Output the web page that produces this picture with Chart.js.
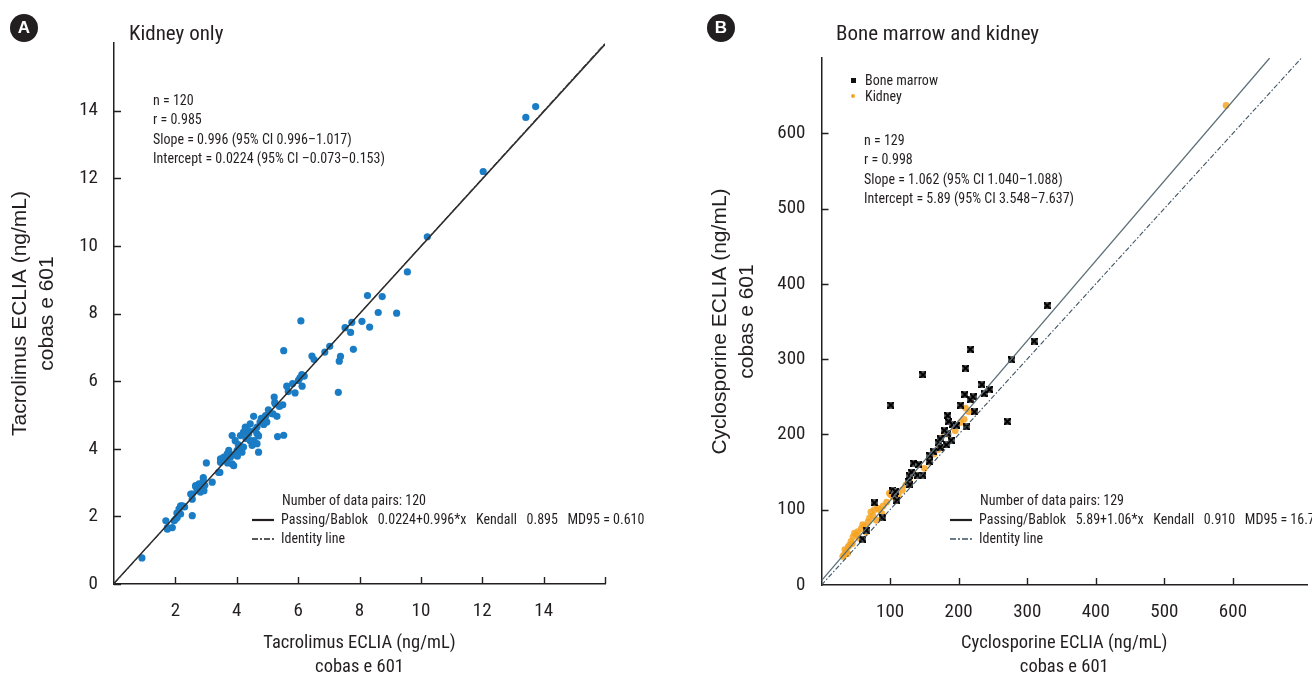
<!DOCTYPE html>
<html>
<head>
<meta charset="UTF-8">
<title>Tacrolimus and cyclosporine ECLIA comparison</title>
<script src="https://cdn.jsdelivr.net/npm/chart.js"></script>
<style>
  body { margin: 0; background: #fff; color: #231f20;
         font-family: "Roboto Condensed", "DejaVu Sans Condensed", Arial, sans-serif; }
  .page { position: relative; width: 1312px; height: 679px; overflow: hidden; }
  canvas { position: absolute; top: 0; }
  #chartA { left: 0; }
  #chartB { left: 660px; }
  .badge { position: absolute; width: 28px; height: 28px; border-radius: 50%;
           background: #231f20; color: #fff; text-align: center;
           font: bold 17px/28px "Liberation Sans", Arial, sans-serif; }
  .title { position: absolute; font-size: 21px; line-height: 26px; }
  .note { position: absolute; font-size: 14px; line-height: 19.4px; white-space: pre; }
  .key { position: absolute; font-size: 14px; line-height: 19px; white-space: pre; }
  .key svg { vertical-align: middle; margin-right: 7px; }
  .mark { position: absolute; }
</style>
</head>
<body>
<div class="page">
  <canvas id="chartA" width="660" height="679"></canvas>
  <canvas id="chartB" width="652" height="679"></canvas>

  <div class="badge" style="left:10px; top:14px;">A</div>
  <div class="title" style="left:129px; top:20px;">Kidney only</div>
  <div class="note" style="left:153px; top:91px;">n = 120
r = 0.985
Slope = 0.996 (95% CI 0.996–1.017)
Intercept = 0.0224 (95% CI –0.073–0.153)</div>
  <div class="key" style="left:282px; top:491px;">Number of data pairs: 120</div>
  <div class="key" style="left:252px; top:510px;"><svg width="22" height="6"><line x1="0" y1="3" x2="22" y2="3" stroke="#231f20" stroke-width="2.2"/></svg>Passing/Bablok   0.0224+0.996*x   Kendall   0.895   MD95 = 0.610</div>
  <div class="key" style="left:252px; top:529px;"><svg width="22" height="6"><line x1="0" y1="3" x2="22" y2="3" stroke="#231f20" stroke-width="1.6" stroke-dasharray="6,2,2,2"/></svg>Identity line</div>

  <div class="badge" style="left:707px; top:14px;">B</div>
  <div class="title" style="left:836px; top:20px;">Bone marrow and kidney</div>
  <div class="mark" style="left:851px; top:78px; width:5px; height:5px; background:#111;"></div>
  <div class="key" style="left:865px; top:71px;">Bone marrow</div>
  <div class="mark" style="left:851px; top:94px; width:4px; height:4px; border-radius:50%; background:#f5a623;"></div>
  <div class="key" style="left:865px; top:87px;">Kidney</div>
  <div class="note" style="left:864px; top:131px;">n = 129
r = 0.998
Slope = 1.062 (95% CI 1.040–1.088)
Intercept = 5.89 (95% CI 3.548–7.637)</div>
  <div class="key" style="left:980px; top:491px;">Number of data pairs: 129</div>
  <div class="key" style="left:950px; top:510px;"><svg width="22" height="6"><line x1="0" y1="3" x2="22" y2="3" stroke="#231f20" stroke-width="2.2"/></svg>Passing/Bablok   5.89+1.06*x   Kendall   0.910   MD95 = 16.7</div>
  <div class="key" style="left:950px; top:529px;"><svg width="22" height="6"><line x1="0" y1="3" x2="22" y2="3" stroke="#3d5361" stroke-width="1.6" stroke-dasharray="6,2,2,2"/></svg>Identity line</div>
</div>

<script>
// Panel A: tacrolimus, kidney only  [comparison, cobas e 601]
const tacroKidney = [
  [0.91,0.77],[1.69,1.87],[1.74,1.67],[1.90,1.67],[1.74,1.62],[1.96,1.87],[2.01,1.92],
  [2.06,1.97],[2.17,2.07],[2.05,2.10],[2.12,2.22],[2.23,2.31],[2.17,2.31],[2.30,2.28],
  [2.55,2.02],[2.55,2.51],[2.50,2.66],[2.55,2.66],[2.66,2.88],[2.71,2.76],[2.82,2.86],
  [2.77,2.96],[2.87,2.81],[2.82,2.72],[2.93,2.76],[2.91,3.06],[2.96,2.92],[2.91,3.15],
  [2.66,2.91],[3.20,3.01],[3.01,3.58],[3.45,3.30],[3.41,3.30],[3.47,3.60],[3.47,3.70],
  [3.58,3.75],[3.62,3.68],[3.70,3.58],[3.69,3.85],[3.79,3.75],[3.74,3.95],[3.85,3.55],
  [3.90,3.50],[3.88,3.82],[3.95,4.24],[3.85,4.39],[4.01,3.95],[4.02,3.78],[4.05,4.12],
  [4.17,3.90],[4.17,4.05],[4.22,4.05],[4.12,4.39],[4.22,4.49],[4.28,4.62],[4.28,4.64],
  [4.30,4.30],[4.39,4.54],[4.39,4.44],[4.44,4.24],[4.44,4.74],[4.50,4.10],[4.55,4.15],
  [4.55,4.24],[4.55,4.96],[4.60,4.55],[4.66,4.64],[4.66,4.44],[4.66,4.15],[4.71,4.38],
  [4.71,3.90],[4.76,4.79],[4.80,4.90],[4.88,4.72],[4.93,4.94],[4.94,4.98],[4.98,4.79],
  [5.03,5.15],[5.10,5.05],[5.18,5.03],[5.22,5.53],[5.24,5.37],[5.25,5.33],[5.31,4.96],
  [5.33,4.36],[5.39,5.25],[5.50,5.30],[5.53,4.40],[5.53,6.90],[5.63,5.85],[5.68,5.69],
  [5.82,5.93],[5.90,5.65],[6.01,6.02],[6.06,6.10],[6.12,6.19],[6.13,5.85],[6.20,6.15],
  [6.09,7.78],[6.45,6.74],[6.52,6.64],[6.87,6.86],[7.03,7.03],[7.31,5.67],[7.34,6.59],
  [7.38,6.73],[7.53,7.58],[7.71,7.44],[7.75,7.74],[7.80,6.94],[8.08,7.77],[8.33,7.60],
  [8.26,8.53],[8.74,8.50],[8.61,8.03],[9.21,8.01],[9.56,9.23],[10.21,10.27],[12.03,12.20],
  [13.42,13.80],[13.74,14.12]
];
const pbLineA = [[0, 0.02], [16, 15.96]];
const identityA = [[0, 0], [16, 16]];
const xTicksA = [2, 4, 6, 8, 10, 12, 14];
const yTicksA = [0, 2, 4, 6, 8, 10, 12, 14];
const xMarksA = [2, 4, 6, 8, 10, 12, 14, 16];

// Panel B: cyclosporine, bone marrow and kidney
const csaMarrow = [
  [60,61],[65,73],[77,109],[89,89],[104,125],[107,122],[108,124],[110,112],[101,239],
  [127,138],[129,133],[129,145],[131,150],[134,162],[140,146],[142,160],[148,146],
  [148,279],[157,164],[158,172],[163,177],[171,189],[173,183],[173,194],[179,205],
  [182,186],[184,201],[184,225],[185,217],[189,192],[191,213],[197,212],[203,239],
  [209,253],[210,288],[211,210],[217,246],[217,313],[221,250],[223,230],[234,266],
  [237,254],[245,260],[271,217],[277,299],[310,324],[329,371]
];
const csaKidney = [
  [31,38],[33,40],[34,47],[36,45],[38,42],[39,51],[41,53],[43,58],[45,55],[46,64],
  [48,69],[51,67],[53,71],[55,62],[58,75],[60,80],[63,78],[65,70],[68,84],[70,89],
  [72,97],[75,92],[77,100],[80,86],[82,102],[85,100],[88,95],[90,105],[95,110],
  [99,122],[101,120],[104,118],[106,117],[112,120],[118,126],[123,133],[127,134],
  [128,139],[135,147],[140,145],[150,155],[157,163],[157,168],[164,174],[170,180],
  [179,201],[185,200],[195,205],[203,216],[208,220],[210,235],[215,230],[590,637]
];
const pbLineB = [[0, 5.9], [653.6, 700]];
const identityB = [[0, 0], [700, 700]];
const xTicksB = [100, 200, 300, 400, 500, 600];
const yTicksB = [0, 100, 200, 300, 400, 500, 600];

const NARROW = '"Roboto Condensed", "DejaVu Sans Condensed", Arial, sans-serif';
const REGULAR = '"Liberation Sans", Arial, sans-serif';
const INK = '#231f20';

const toPts = arr => arr.map(p => ({ x: p[0], y: p[1] }));

// tick marks pointing into the plot area
const innerTicks = {
  id: 'innerTicks',
  afterDraw(chart, args, opts) {
    const { ctx, chartArea } = chart;
    const sx = chart.scales.x, sy = chart.scales.y;
    ctx.save();
    ctx.strokeStyle = INK;
    ctx.lineWidth = 1.4;
    ctx.beginPath();
    opts.x.forEach(v => {
      const px = Math.round(sx.getPixelForValue(v)) + 0.5;
      ctx.moveTo(px, chartArea.bottom);
      ctx.lineTo(px, chartArea.bottom - 7);
    });
    opts.y.forEach(v => {
      const py = Math.round(sy.getPixelForValue(v)) + 0.5;
      ctx.moveTo(chartArea.left, py);
      ctx.lineTo(chartArea.left + 7, py);
    });
    ctx.stroke();
    ctx.restore();
  }
};

// bone marrow marker: dark box with a heavy cross
function crossBox() {
  const c = document.createElement('canvas');
  c.width = 7; c.height = 7;
  const g = c.getContext('2d');
  g.fillStyle = '#6a6a6a';
  g.fillRect(0, 0, 7, 7);
  g.strokeStyle = '#000';
  g.lineWidth = 2.2;
  g.beginPath();
  g.moveTo(0, 0); g.lineTo(7, 7);
  g.moveTo(7, 0); g.lineTo(0, 7);
  g.stroke();
  return c;
}

function axes(o) {
  return {
    x: {
      type: 'linear', min: 0, max: o.xMax,
      grid: { display: false, drawTicks: false },
      border: { display: true, color: INK, width: 1.5 },
      afterBuildTicks: s => { s.ticks = o.xTicks.map(v => ({ value: v })); },
      afterFit: s => { s.height = o.xHeight; },
      ticks: { color: INK, padding: 16, font: { family: NARROW, size: 19 } },
      title: {
        display: true, text: o.xTitle, color: INK, padding: { top: 0, bottom: 0 },
        font: { family: NARROW, size: 18.5, lineHeight: 1.3 }
      }
    },
    y: {
      type: 'linear', min: 0, max: o.yMax,
      grid: { display: false, drawTicks: false },
      border: { display: true, color: INK, width: 1.5 },
      afterBuildTicks: s => { s.ticks = o.yTicks.map(v => ({ value: v })); },
      afterFit: s => { s.width = o.yWidth; },
      ticks: { color: INK, padding: 16, font: { family: NARROW, size: 19 } },
      title: {
        display: true, text: o.yTitle, color: INK, padding: { top: o.yTitlePad, bottom: 0 },
        font: { family: REGULAR, size: 21, lineHeight: 1.3 }
      }
    }
  };
}

new Chart(document.getElementById('chartA'), {
  type: 'scatter',
  data: {
    datasets: [
      { label: 'Passing/Bablok', data: toPts(pbLineA), showLine: true, pointRadius: 0,
        borderColor: '#2b2b2b', borderWidth: 1.5, order: 0 },
      { label: 'Identity line', data: toPts(identityA), showLine: true, pointRadius: 0,
        borderColor: '#555', borderWidth: 1, borderDash: [6, 2, 2, 2], order: 0 },
      { label: 'Kidney', data: toPts(tacroKidney), pointRadius: 3.6, pointHoverRadius: 3.6,
        backgroundColor: '#1a7cc4', borderWidth: 0, order: 1 }
    ]
  },
  options: {
    responsive: false, animation: false,
    layout: { padding: { left: 0, top: 43, right: 55, bottom: 0 } },
    plugins: {
      legend: { display: false }, tooltip: { enabled: false },
      innerTicks: { x: xMarksA, y: yTicksA }
    },
    scales: axes({
      xMax: 16, yMax: 16, xTicks: xTicksA, yTicks: yTicksA, xHeight: 95, yWidth: 114,
      yTitlePad: 6.5,
      xTitle: ['Tacrolimus ECLIA (ng/mL)', 'cobas e 601'],
      yTitle: ['Tacrolimus ECLIA (ng/mL)', 'cobas e 601']
    })
  },
  plugins: [innerTicks]
});

new Chart(document.getElementById('chartB'), {
  type: 'scatter',
  data: {
    datasets: [
      { label: 'Passing/Bablok', data: toPts(pbLineB), showLine: true, pointRadius: 0,
        borderColor: '#5d6f79', borderWidth: 1.3, order: 0 },
      { label: 'Identity line', data: toPts(identityB), showLine: true, pointRadius: 0,
        borderColor: '#3d5361', borderWidth: 1.1, borderDash: [5, 2, 1.5, 2], order: 0 },
      { label: 'Kidney', data: toPts(csaKidney), pointRadius: 3.4, pointHoverRadius: 3.4,
        backgroundColor: 'rgba(246,164,34,0.85)', borderWidth: 0, order: 2 },
      { label: 'Bone marrow', data: toPts(csaMarrow), pointStyle: crossBox(),
        pointRadius: 4, order: 1 }
    ]
  },
  options: {
    responsive: false, animation: false,
    layout: { padding: { left: 0, top: 58, right: 5, bottom: 0 } },
    plugins: {
      legend: { display: false }, tooltip: { enabled: false },
      innerTicks: { x: xTicksB, y: yTicksB.slice(1) }
    },
    scales: axes({
      xMax: 708, yMax: 700, xTicks: xTicksB, yTicks: yTicksB, xHeight: 94, yWidth: 161.5,
      yTitlePad: 46.5,
      xTitle: ['Cyclosporine ECLIA (ng/mL)', 'cobas e 601'],
      yTitle: ['Cyclosporine ECLIA (ng/mL)', 'cobas e 601']
    })
  },
  plugins: [innerTicks]
});
</script>
</body>
</html>
